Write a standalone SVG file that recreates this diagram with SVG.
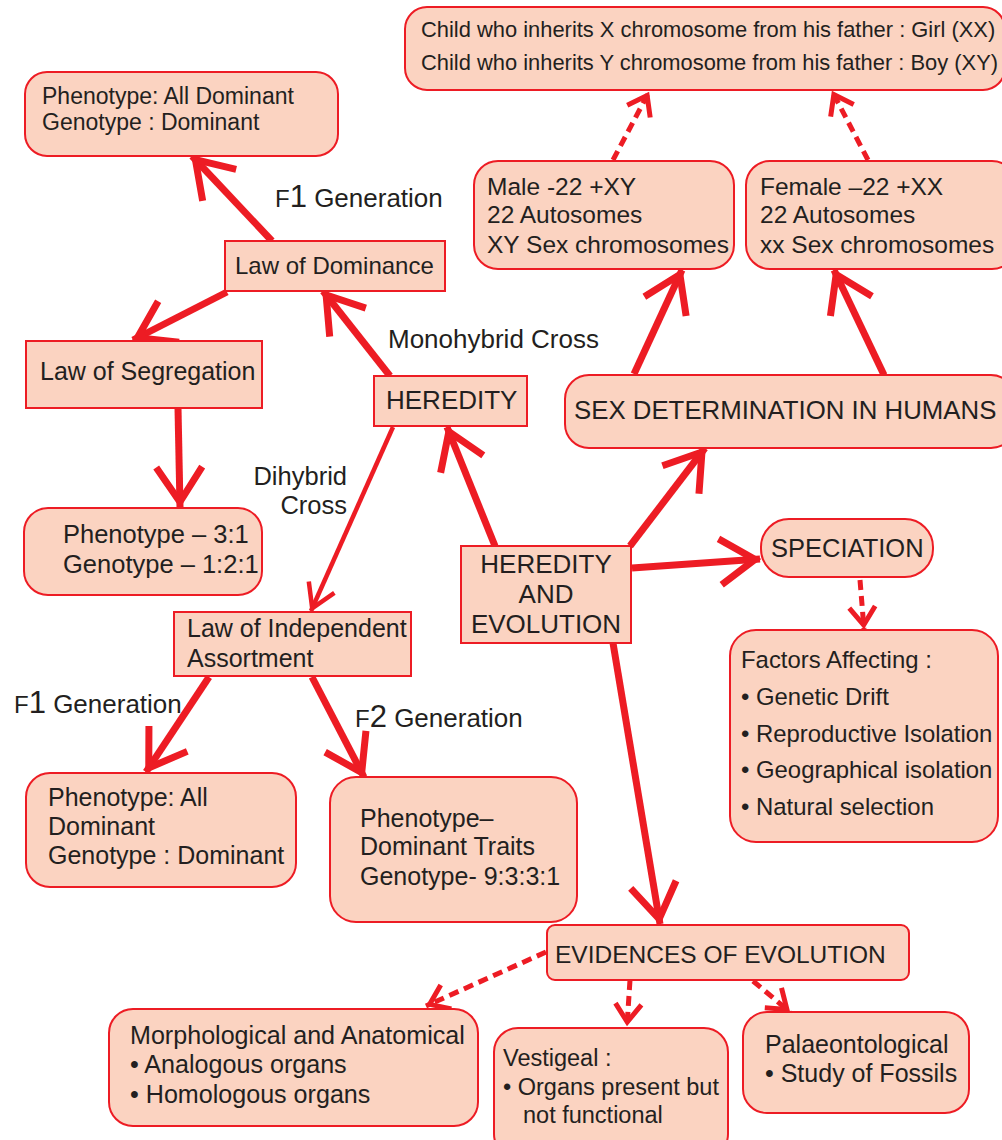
<svg xmlns="http://www.w3.org/2000/svg" width="1002" height="1140" viewBox="0 0 1002 1140">
<style>
  .box { fill: #FBD3C1; stroke: #ED1C24; stroke-width: 2; }
  text { font-family: "Liberation Sans", Arial, sans-serif; fill: #231F20; }
  .thick { stroke: #ED1C24; stroke-width: 7; fill: none; marker-end: url(#headThick); }
  .thin { stroke: #ED1C24; stroke-width: 4.5; fill: none; marker-end: url(#headThin); }
  .dash { stroke: #ED1C24; stroke-width: 5; fill: none; stroke-dasharray: 10 6; marker-end: url(#headDash); }
</style>
<defs>
  <marker id="headThick" markerUnits="userSpaceOnUse" viewBox="-50 -30 60 60" refX="0" refY="0" markerWidth="60" markerHeight="60" orient="auto" overflow="visible">
    <path d="M-40,-23 L-5,0 L-40,23" fill="none" stroke="#ED1C24" stroke-width="7" stroke-linejoin="miter"/>
  </marker>
  <marker id="headThin" markerUnits="userSpaceOnUse" viewBox="-30 -20 40 40" refX="0" refY="0" markerWidth="40" markerHeight="40" orient="auto" overflow="visible">
    <path d="M-26,-14 L-3,0 L-26,14" fill="none" stroke="#ED1C24" stroke-width="4.5" stroke-linejoin="miter"/>
  </marker>
  <marker id="headDash" markerUnits="userSpaceOnUse" viewBox="-30 -20 40 40" refX="0" refY="0" markerWidth="40" markerHeight="40" orient="auto" overflow="visible">
    <path d="M-22,-13 L-4,0 L-22,13" fill="none" stroke="#ED1C24" stroke-width="5" stroke-linejoin="miter"/>
  </marker>
</defs>
<rect width="1002" height="1140" fill="#ffffff"/>

<g id="connectors">
  <line class="thick" x1="272" y1="241" x2="192" y2="156"/>
  <line class="thick" x1="227" y1="292" x2="133" y2="340"/>
  <line class="thick" x1="178" y1="408" x2="180" y2="507"/>
  <line class="thick" x1="390" y1="376" x2="323" y2="291"/>
  <line class="thin" x1="393" y1="427" x2="311" y2="611"/>
  <line class="thick" x1="495" y1="546" x2="447" y2="427"/>
  <line class="thick" x1="630" y1="546" x2="705" y2="448"/>
  <line class="thick" x1="632" y1="568" x2="760" y2="559"/>
  <line class="thick" x1="613" y1="643" x2="660" y2="924"/>
  <line class="thick" x1="634" y1="374" x2="682" y2="270"/>
  <line class="thick" x1="884" y1="375" x2="834" y2="270"/>
  <line class="thick" x1="209" y1="677" x2="146" y2="772"/>
  <line class="thick" x1="312" y1="677" x2="364" y2="777"/>
  <line class="dash" x1="613" y1="160" x2="649" y2="92"/>
  <line class="dash" x1="868" y1="160" x2="832" y2="91"/>
  <line class="dash" x1="860" y1="580" x2="864" y2="629"/>
  <line class="dash" x1="546" y1="952" x2="426" y2="1006"/>
  <line class="dash" x1="630" y1="980" x2="627" y2="1026"/>
  <line class="dash" x1="753" y1="981" x2="790" y2="1012"/>
</g>

<g id="labels">
  <text x="275" y="207"><tspan font-size="24">F</tspan><tspan font-size="31">1</tspan><tspan font-size="26"> Generation</tspan></text>
  <text x="388" y="348" font-size="26">Monohybrid Cross</text>
  <text x="347" y="485" font-size="25.5" text-anchor="end">Dihybrid</text>
  <text x="347" y="514" font-size="25.5" text-anchor="end">Cross</text>
  <text x="14" y="713"><tspan font-size="24">F</tspan><tspan font-size="31">1</tspan><tspan font-size="26"> Generation</tspan></text>
  <text x="355" y="727"><tspan font-size="24">F</tspan><tspan font-size="31">2</tspan><tspan font-size="26"> Generation</tspan></text>
</g>

<g id="n-top">
  <rect class="box" x="405" y="7" width="600" height="83" rx="22"/>
  <text x="421" y="37" font-size="21.9">Child who inherits X chromosome from his father : Girl (XX)</text>
  <text x="421" y="70" font-size="21.9">Child who inherits Y chromosome from his father : Boy (XY)</text>
</g>
<g id="n-f1dominant">
  <rect class="box" x="25" y="72" width="313" height="84" rx="22"/>
  <text x="42" y="104" font-size="23">Phenotype: All Dominant</text>
  <text x="42" y="130" font-size="23">Genotype : Dominant</text>
</g>
<g id="n-dominance">
  <rect class="box" x="225" y="241" width="220" height="50"/>
  <text x="235" y="274" font-size="24">Law of Dominance</text>
</g>
<g id="n-segregation">
  <rect class="box" x="26" y="341" width="236" height="67"/>
  <text x="40" y="380" font-size="25">Law of Segregation</text>
</g>
<g id="n-ratio31">
  <rect class="box" x="24" y="508" width="238" height="87" rx="24"/>
  <text x="63" y="543" font-size="25.5">Phenotype – 3:1</text>
  <text x="63" y="573" font-size="25.5">Genotype – 1:2:1</text>
</g>
<g id="n-heredity">
  <rect class="box" x="374" y="376" width="153" height="50"/>
  <text x="386" y="409" font-size="26">HEREDITY</text>
</g>
<g id="n-male">
  <rect class="box" x="474" y="161" width="260" height="108" rx="24"/>
  <text x="487" y="195" font-size="24.5">Male -22 +XY</text>
  <text x="487" y="223" font-size="24.5">22 Autosomes</text>
  <text x="487" y="253" font-size="24.5">XY Sex chromosomes</text>
</g>
<g id="n-female">
  <rect class="box" x="746" y="161" width="270" height="108" rx="24"/>
  <text x="760" y="195" font-size="24.5">Female –22 +XX</text>
  <text x="760" y="223" font-size="24.5">22 Autosomes</text>
  <text x="760" y="253" font-size="24.5">xx Sex chromosomes</text>
</g>
<g id="n-sexdet">
  <rect class="box" x="565" y="375" width="450" height="73" rx="24"/>
  <text x="574" y="419" font-size="25.8">SEX DETERMINATION IN HUMANS</text>
</g>
<g id="n-hered-evol">
  <rect class="box" x="461" y="546" width="170" height="97"/>
  <text x="546" y="573" font-size="26" text-anchor="middle">HEREDITY</text>
  <text x="546" y="603" font-size="26" text-anchor="middle">AND</text>
  <text x="546" y="633" font-size="26" text-anchor="middle">EVOLUTION</text>
</g>
<g id="n-speciation">
  <rect class="box" x="761" y="519" width="172" height="58" rx="28"/>
  <text x="771" y="557" font-size="25.5">SPECIATION</text>
</g>
<g id="n-factors">
  <rect class="box" x="730" y="630" width="268" height="212" rx="26"/>
  <text x="741" y="668" font-size="23.9">Factors Affecting :</text>
  <text x="741" y="705" font-size="23.9">• Genetic Drift</text>
  <text x="741" y="742" font-size="23.9">• Reproductive Isolation</text>
  <text x="741" y="778" font-size="23.9">• Geographical isolation</text>
  <text x="741" y="815" font-size="23.9">• Natural selection</text>
</g>
<g id="n-independent">
  <rect class="box" x="174" y="612" width="237" height="64"/>
  <text x="187" y="637" font-size="25">Law of Independent</text>
  <text x="187" y="667" font-size="25">Assortment</text>
</g>
<g id="n-f1box">
  <rect class="box" x="26" y="773" width="270" height="114" rx="24"/>
  <text x="48" y="806" font-size="25">Phenotype: All</text>
  <text x="48" y="835" font-size="25">Dominant</text>
  <text x="48" y="864" font-size="25">Genotype : Dominant</text>
</g>
<g id="n-f2box">
  <rect class="box" x="330" y="777" width="247" height="145" rx="26"/>
  <text x="360" y="827" font-size="25">Phenotype–</text>
  <text x="360" y="855" font-size="25">Dominant Traits</text>
  <text x="360" y="885" font-size="25">Genotype- 9:3:3:1</text>
</g>
<g id="n-evidences">
  <rect class="box" x="547" y="925" width="362" height="55" rx="8"/>
  <text x="555" y="963" font-size="24.5">EVIDENCES OF EVOLUTION</text>
</g>
<g id="n-morph">
  <rect class="box" x="109" y="1009" width="369" height="117" rx="24"/>
  <text x="130" y="1044" font-size="25.1">Morphological and Anatomical</text>
  <text x="130" y="1073" font-size="25.1">• Analogous organs</text>
  <text x="130" y="1103" font-size="25.1">• Homologous organs</text>
</g>
<g id="n-vestigeal">
  <rect class="box" x="494" y="1028" width="234" height="130" rx="24"/>
  <text x="503" y="1066" font-size="23.5">Vestigeal :</text>
  <text x="503" y="1095" font-size="23.5">• Organs present but</text>
  <text x="523" y="1123" font-size="23.5">not functional</text>
</g>
<g id="n-palaeo">
  <rect class="box" x="743" y="1012" width="226" height="101" rx="24"/>
  <text x="765" y="1053" font-size="25">Palaeontological</text>
  <text x="765" y="1082" font-size="25">• Study of Fossils</text>
</g>
</svg>
